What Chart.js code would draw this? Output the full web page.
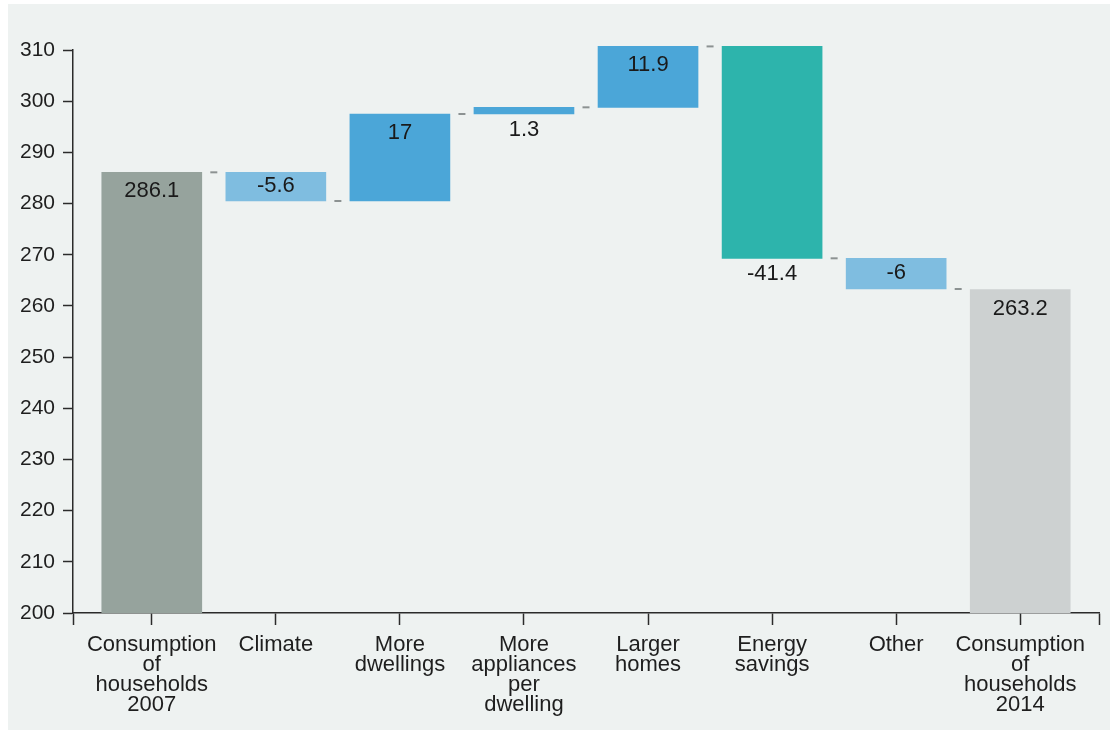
<!DOCTYPE html>
<html lang="en">
<head>
    <meta charset="UTF-8">
    <title>Household consumption 2007-2014</title>
    <script src="https://cdn.jsdelivr.net/npm/chart.js"></script>
    <style>
        body { margin: 0; background: #ffffff; }
        #panel {
            position: absolute;
            left: 8px;
            top: 4px;
            width: 1102px;
            height: 726px;
            background: #eef2f1;
        }
    </style>
</head>
<body>
    <div id="panel">
        <canvas id="cascadaChart"></canvas>
    </div>

    <script>
        // Datos
        const categorias = [
            ["Consumption", "of", "households", "2007"],
            "Climate",
            ["More", "dwellings"],
            ["More", "appliances", "per", "dwelling"],
            ["Larger", "homes"],
            ["Energy", "savings"],
            "Other",
            ["Consumption", "of", "households", "2014"]
        ];
        const totalInicial = 286.1;
        const cambios = [-5.6, 17, 1.3, 11.9, -41.4, -6];
        const totalFinal = 263.2;
        const ejeYMin = 200;
        const ejeYMax = 310;
        const ejeYPaso = 10;

        const colores = ["#96a39d", "#7fbde0", "#4ba6d8", "#4ba6d8", "#4ba6d8", "#2db4ac", "#7fbde0", "#cdd1d1"];
        // donde va cada etiqueta: arriba dentro, centro, o debajo de la barra
        const posEtiqueta = ["top", "mid", "top", "below", "top", "below", "mid", "top"];

        // barras flotantes y niveles de los conectores
        const barras = [{ x: 0, y: [ejeYMin, totalInicial] }];
        const etiquetas = [String(totalInicial)];
        const niveles = [totalInicial];
        let acumulado = totalInicial;
        cambios.forEach(function(c, i) {
            barras.push({ x: i + 1, y: [acumulado, acumulado + c] });
            etiquetas.push(String(c));
            acumulado = acumulado + c;
            niveles.push(acumulado);
        });
        barras.push({ x: categorias.length - 1, y: [ejeYMin, totalFinal] });
        etiquetas.push(String(totalFinal));

        const conectores = niveles.map(function(v, i) {
            return { x: i + 0.5, y: v };
        });

        Chart.defaults.font.family = '"Liberation Sans", Arial, sans-serif';
        Chart.defaults.font.size = 22;
        Chart.defaults.color = "#1e1e1e";

        const extremoX = 0.635;

        const etiquetasPlugin = {
            id: "etiquetasBarras",
            afterDatasetsDraw(chart) {
                const ctx = chart.ctx;
                const meta = chart.getDatasetMeta(0);
                ctx.save();
                ctx.font = '22px "Liberation Sans", Arial, sans-serif';
                ctx.fillStyle = "#1a1a1a";
                ctx.textAlign = "center";
                ctx.textBaseline = "middle";
                meta.data.forEach(function(bar, i) {
                    const arriba = Math.min(bar.y, bar.base);
                    const abajo = Math.max(bar.y, bar.base);
                    let y = arriba + 19;
                    if (posEtiqueta[i] === "mid") y = (arriba + abajo) / 2 - 1;
                    if (posEtiqueta[i] === "below") y = abajo + 16;
                    ctx.fillText(etiquetas[i], bar.x, y);
                });
                ctx.restore();
            }
        };

        const cascadaChart = new Chart(document.getElementById("cascadaChart"), {
            type: "bar",
            data: {
                datasets: [{
                    data: barras,
                    backgroundColor: colores,
                    borderWidth: 0,
                    barThickness: 100,
                    clip: false
                }, {
                    type: "line",
                    data: conectores,
                    showLine: false,
                    pointStyle: "line",
                    pointRadius: 3.5,
                    pointBorderWidth: 2,
                    borderColor: "#8c9292",
                    clip: false
                }]
            },
            options: {
                responsive: true,
                maintainAspectRatio: false,
                animation: false,
                layout: {
                    padding: { left: 0, top: 46, right: 11, bottom: 0 }
                },
                plugins: {
                    legend: { display: false },
                    tooltip: { enabled: false }
                },
                scales: {
                    x: {
                        type: "linear",
                        offset: false,
                        min: -extremoX,
                        max: categorias.length - 1 + extremoX,
                        afterBuildTicks: function(scale) {
                            const t = [{ value: scale.min }];
                            categorias.forEach(function(c, i) { t.push({ value: i }); });
                            t.push({ value: scale.max });
                            scale.ticks = t;
                        },
                        afterFit: function(scale) {
                            scale.height = 117;
                        },
                        border: { display: true, color: "#2b2b2b", width: 1.5 },
                        grid: {
                            offset: false,
                            drawOnChartArea: false,
                            drawTicks: true,
                            tickLength: 12,
                            tickWidth: 1.5,
                            tickColor: "#2b2b2b"
                        },
                        ticks: {
                            autoSkip: false,
                            maxRotation: 0,
                            padding: 10,
                            font: { size: 22, lineHeight: 0.91 },
                            callback: function(v) {
                                return Number.isInteger(v) ? categorias[v] : "";
                            }
                        }
                    },
                    y: {
                        min: ejeYMin,
                        max: ejeYMax,
                        afterFit: function(scale) {
                            scale.width = 65;
                        },
                        border: { display: true, color: "#2b2b2b", width: 1.5 },
                        grid: {
                            drawOnChartArea: false,
                            drawTicks: true,
                            tickLength: 10,
                            tickWidth: 1.5,
                            tickColor: "#2b2b2b"
                        },
                        ticks: {
                            stepSize: ejeYPaso,
                            padding: 8,
                            font: { size: 21 }
                        }
                    }
                }
            },
            plugins: [etiquetasPlugin]
        });
    </script>
</body>
</html>
